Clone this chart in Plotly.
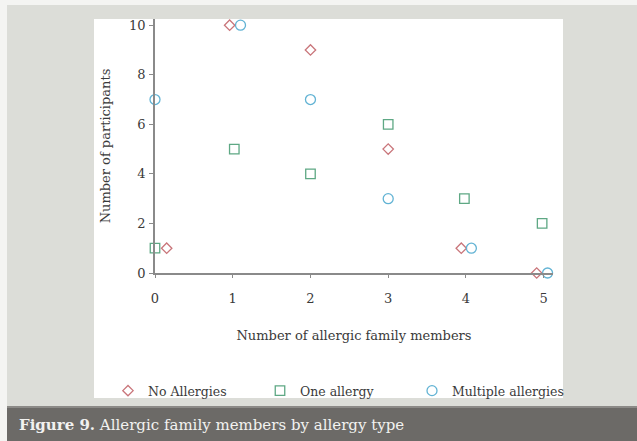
import plotly.graph_objects as go

# Number of allergic family members (plotted positions, slightly staggered per group)
x_none = [0.15, 0.96, 2.0, 3.0, 3.94, 4.91]
x_one = [0.0, 1.02, 2.0, 3.0, 3.98, 4.98]
x_multi = [0.0, 1.10, 2.0, 3.0, 4.07, 5.05]

# Number of participants in each group
y_none = [1, 10, 9, 5, 1, 0]
y_one = [1, 5, 4, 6, 3, 2]
y_multi = [7, 10, 7, 3, 1, 0]

x_ticks = [0, 1, 2, 3, 4, 5]
y_ticks = [0, 2, 4, 6, 8, 10]

FONT = "DejaVu Serif"
TXT = "#3a3a3a"
W, H = 637, 441
L, R, T, B = 155, 84, 19, 168
pw = W - L - R
ph = H - T - B

fig = go.Figure()

series = [
    ("No Allergies", x_none, y_none, "diamond-open", "#c9757a", 8),
    ("One allergy", x_one, y_one, "square-open", "#5ea884", 9.5),
    ("Multiple allergies", x_multi, y_multi, "circle-open", "#62b3d4", 10),
]
for name, xs, ys, sym, col, sz in series:
    fig.add_trace(go.Scatter(
        x=xs, y=ys, mode="markers", name=name, cliponaxis=False,
        marker=dict(symbol=sym, size=sz, color=col, line=dict(color=col, width=1.3)),
    ))


def rect(x0, y0, x1, y1, color):
    """Background block given in page pixels."""
    return dict(type="rect", xref="paper", yref="paper", layer="below",
                x0=(x0 - L) / pw, x1=(x1 - L) / pw,
                y0=(H - B - y1) / ph, y1=(H - B - y0) / ph,
                fillcolor=color, line_width=0)


fig.update_layout(shapes=[
    rect(0, 0, W, 5, "#f4f4f2"),
    rect(0, 0, 7, H, "#f4f4f2"),
    rect(94, 19, 563, 398, "#ffffff"),
    rect(7, 406, W, 408, "#8c8a87"),
    rect(7, 408, W, H, "#6c6a67"),
])

fig.add_annotation(
    xref="paper", yref="paper", x=(17 - L) / pw, y=(H - B - 425) / ph,
    xanchor="left", yanchor="middle", showarrow=False,
    text="<b>Figure 9.</b> Allergic family members by allergy type",
    font=dict(family=FONT, size=15, color="#f2f2f0"),
)

fig.update_layout(
    width=W, height=H,
    margin=dict(l=L, r=R, t=T, b=B),
    paper_bgcolor="#dcddd8",
    plot_bgcolor="rgba(0,0,0,0)",
    font=dict(family=FONT, size=13, color=TXT),
    showlegend=True,
    legend=dict(
        orientation="h",
        x=(108 - L) / pw, y=(H - B - 391) / ph,
        xanchor="left", yanchor="middle",
        entrywidth=107, entrywidthmode="pixels", itemwidth=30,
        font=dict(family=FONT, size=12.5, color=TXT),
        bgcolor="rgba(0,0,0,0)",
    ),
    xaxis=dict(
        range=[0, 5.12], tickvals=x_ticks, showgrid=False, zeroline=False,
        showline=True, linecolor="#8a8a8a", linewidth=1.5,
        ticks="outside", ticklen=3, tickcolor="#8a8a8a",
        ticklabelstandoff=10,
        tickfont=dict(family=FONT, size=13, color=TXT),
        title=dict(text="Number of allergic family members", standoff=26,
                   font=dict(family=FONT, size=13, color=TXT)),
    ),
    yaxis=dict(
        range=[0, 10.25], tickvals=y_ticks, showgrid=False, zeroline=False,
        showline=True, linecolor="#8a8a8a", linewidth=1.5,
        ticks="outside", ticklen=4, tickcolor="#8a8a8a",
        ticklabelstandoff=1,
        tickfont=dict(family=FONT, size=13, color=TXT),
        title=dict(text="Number of participants", standoff=16,
                   font=dict(family=FONT, size=13, color=TXT)),
    ),
)

fig.write_html("out.html")
